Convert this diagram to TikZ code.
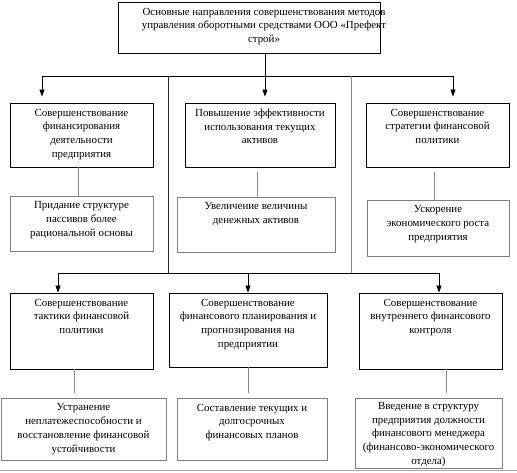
\documentclass[tikz,border=0pt]{standalone}
\usepackage{fontspec}
\setmainfont{Liberation Serif}
\usetikzlibrary{arrows.meta}
\begin{document}
\begin{tikzpicture}[x=1pt,y=-1pt,
  mbox/.style={draw=black,line width=0.8pt,inner sep=0pt},
  sbox/.style={draw=black!50,line width=0.8pt,inner sep=0pt},
  txt/.style={anchor=north,align=center,inner sep=2.5pt,yshift=-3.5pt,font=\fontsize{10.9}{13.7}\selectfont},
  link/.style={draw=black,line width=0.7pt},
  arr/.style={link,-{Triangle[length=7pt,width=5pt]}},
  sublink/.style={draw=black!45,line width=0.7pt},
  graydiv/.style={draw=black!45,line width=0.8pt},
  darkdiv/.style={draw=black!85,line width=0.7pt}]
\useasboundingbox (0,0) rectangle (517,473);

% top
\node[mbox,minimum width=262pt,minimum height=51pt,
  label={[txt,xshift=15pt]north:{Основные направления совершенствования методов\\управления оборотными средствами ООО «Префект\\строй»}}] (top) at (249,27.5) {};

% row 1
\node[mbox,minimum width=143pt,minimum height=64pt,
  label={[txt]north:{Совершенствование\\финансирования\\деятельности\\предприятия}}] (b1) at (81.5,135) {};
\node[mbox,minimum width=150pt,minimum height=64pt,
  label={[txt]north:{Повышение эффективности\\использования текущих\\активов}}] (b2) at (260,135) {};
\node[mbox,minimum width=143pt,minimum height=64pt,
  label={[txt]north:{Совершенствование\\стратегии финансовой\\политики}}] (b3) at (437.5,135) {};

% sub row 1
\node[sbox,minimum width=143pt,minimum height=55pt,
  label={[txt]north:{Придание структуре\\пассивов более\\рациональной основы}}] (s1) at (81.5,223.5) {};
\node[sbox,minimum width=158pt,minimum height=55pt,
  label={[txt]north:{Увеличение величины\\денежных активов}}] (s2) at (256,224.5) {};
\node[sbox,minimum width=142pt,minimum height=56pt,
  label={[txt]north:{Ускорение\\экономического роста\\предприятия}}] (s3) at (438,228) {};

% row 2
\node[mbox,minimum width=143pt,minimum height=76pt,
  label={[txt]north:{Совершенствование\\тактики финансовой\\политики}}] (b4) at (81.5,331) {};
\node[mbox,minimum width=158pt,minimum height=74pt,
  label={[txt]north:{Совершенствование\\финансового планирования и\\прогнозирования на\\предприятии}}] (b5) at (248,330) {};
\node[mbox,minimum width=143pt,minimum height=76pt,
  label={[txt]north:{Совершенствование\\внутреннего финансового\\контроля}}] (b6) at (430.5,331) {};

% sub row 2
\node[sbox,minimum width=165pt,minimum height=62pt,
  label={[txt]north:{Устранение\\неплатежеспособности и\\восстановление финансовой\\устойчивости}}] (s4) at (83.5,429) {};
\node[sbox,minimum width=150pt,minimum height=62pt,
  label={[txt]north:{Составление текущих и\\долгосрочных\\финансовых планов}}] (s5) at (252,429) {};
\node[sbox,minimum width=147pt,minimum height=70pt,
  label={[txt,yshift=1.5pt]north:{Введение в структуру\\предприятия должности\\финансового менеджера\\(финансово-экономического\\отдела)}}] (s6) at (428.5,433) {};

% junction coordinates
\coordinate (j1) at (265,76);
\coordinate (jl) at (42,76);
\coordinate (jr) at (453,76);
\coordinate (d1t) at (168,76);
\coordinate (d1b) at (168,273);
\coordinate (d2t) at (351,76);
\coordinate (d2b) at (351,273);
\coordinate (kl) at (58,273);
\coordinate (km) at (248,273);
\coordinate (kr) at (439,273);
\coordinate (gl) at (0,470.5);
\coordinate (gr) at (517,470.5);

% top connectors
\draw[link] (top.south -| j1) -- (j1);
\draw[link] (jl) -- (jr);
\draw[arr] (j1) -- ([yshift=6pt]b2.north -| j1);
\draw[arr] (jl) -- ([yshift=6pt]b1.north -| jl);
\draw[arr] (jr) -- ([yshift=6pt]b3.north -| jr);

% dividers
\draw[darkdiv] (d1t) -- (d1b);
\draw[graydiv] (d2t) -- (d2b);

% lower connectors
\draw[link] (kl) -- (kr);
\draw[arr] (kl) -- (b4.north -| kl);
\draw[arr] (km) -- (b5.north -| km);
\draw[arr] (kr) -- (b6.north -| kr);

% sub connectors
\draw[sublink] ([xshift=-3.5pt]b1.south) -- ([xshift=-3.5pt]s1.north);
\draw[sublink] ([xshift=-3pt,yshift=-5pt]b2.south) -- ([xshift=1pt]s2.north);
\draw[sublink] ([xshift=-3.5pt,yshift=-5pt]b3.south) -- ([xshift=-4pt]s3.north);
\draw[sublink] ([xshift=-7.5pt]b4.south) -- ([xshift=-9.5pt,yshift=5pt]s4.north);
\draw[sublink] (b5.south) -- ([xshift=-4pt,yshift=5pt]s5.north);
\draw[sublink] ([xshift=15.5pt]b6.south) -- ([xshift=17.5pt,yshift=5pt]s6.north);

% bottom rule
\draw[draw=black!35,line width=0.8pt] (gl) -- (gr);
\end{tikzpicture}
\end{document}
